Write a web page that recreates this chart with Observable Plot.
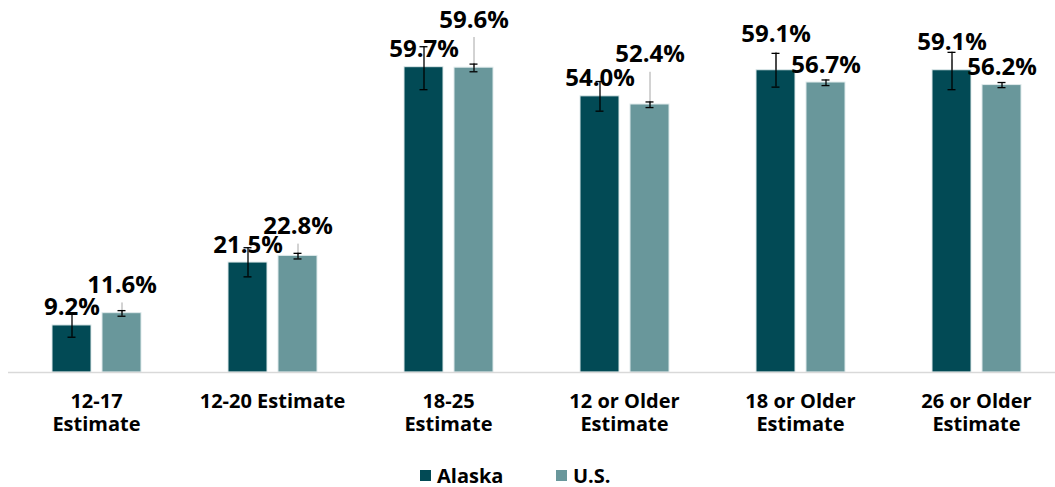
<!DOCTYPE html>
<html>
<head>
<meta charset="utf-8">
<script src="https://cdn.jsdelivr.net/npm/d3@7"></script>
<script src="https://cdn.jsdelivr.net/npm/@observablehq/plot@0.6"></script>
<style>
  html, body { margin: 0; padding: 0; background: #fff; overflow: hidden; }
  #wrap { position: relative; width: 1055px; height: 487px; font-family: "Open Sans", sans-serif; }
  .leg { position: absolute; top: 462px; display: flex; align-items: center; font-weight: 700; font-size: 20px; color: #000; }
  .sw { width: 11px; height: 11px; margin-right: 6px; }
</style>
</head>
<body>
<div id="wrap">
  <div id="chart"></div>
  <div class="leg" style="left:420px"><div class="sw" style="background:#024a55"></div>Alaska</div>
  <div class="leg" style="left:556px"><div class="sw" style="background:#69979b"></div>U.S.</div>
</div>
<script>
// ---- data ----
const categories = ["12-17 Estimate", "12-20 Estimate", "18-25 Estimate", "12 or Older Estimate", "18 or Older Estimate", "26 or Older Estimate"];
const tickLabels = ["12-17\nEstimate", "12-20 Estimate", "18-25\nEstimate", "12 or Older\nEstimate", "18 or Older\nEstimate", "26 or Older\nEstimate"];
const series = ["Alaska", "U.S."];
const alaska = [9.2, 21.5, 59.7, 54.0, 59.1, 59.1];
const alaskaLow = [6.9, 18.7, 55.3, 51.1, 55.8, 55.3];
const alaskaHigh = [11.6, 24.4, 63.7, 56.9, 62.4, 62.6];
const us = [11.6, 22.8, 59.6, 52.4, 56.7, 56.2];
const usLow = [11.0, 22.2, 58.8, 51.8, 56.1, 55.7];
const usHigh = [12.1, 23.3, 60.3, 52.9, 57.2, 56.7];

// ---- layout: how far (in % units) each data label was lifted above its bar ----
const alaskaLabelLift = [0, 0, 0, 0, 3.5, 2.0];
const usLabelLift = [2.0, 2.3, 5.9, 6.3, 0, 0];

const rows = [];
categories.forEach((c, i) => {
  rows.push({cat: c, series: "Alaska", value: alaska[i], low: alaskaLow[i], high: alaskaHigh[i], lift: alaskaLabelLift[i]});
  rows.push({cat: c, series: "U.S.", value: us[i], low: usLow[i], high: usHigh[i], lift: usLabelLift[i]});
});

const chart = Plot.plot({
  width: 1055,
  height: 445,
  marginLeft: 8,
  marginRight: -9,
  marginTop: 14,
  marginBottom: 73,
  style: {fontFamily: "'Open Sans', sans-serif", background: "#fff"},
  fx: {domain: categories, paddingInner: 0, paddingOuter: 0, label: null},
  x: {domain: series, paddingInner: 0.22, paddingOuter: 0.87, axis: null},
  y: {domain: [0, 70], axis: null},
  color: {domain: series, range: ["#024a55", "#69979b"]},
  marks: [
    Plot.barY(rows, {fx: "cat", x: "series", y: "value", fill: "series", stroke: "#dfeaeb", strokeWidth: 1}),
    Plot.ruleY([0], {stroke: "#d9d9d9", strokeWidth: 1.5}),
    Plot.ruleX(rows.filter(d => d.lift > 0), {fx: "cat", x: "series", y1: "value", y2: d => d.value + d.lift, stroke: "#a6a6a6", strokeWidth: 1}),
    Plot.ruleX(rows, {fx: "cat", x: "series", y1: "low", y2: "high", stroke: "#000", strokeWidth: 1.3}),
    Plot.tickY(rows, {fx: "cat", x: "series", y: "low", insetLeft: 15.5, insetRight: 15.5, stroke: "#000", strokeWidth: 1.3}),
    Plot.tickY(rows, {fx: "cat", x: "series", y: "high", insetLeft: 15.5, insetRight: 15.5, stroke: "#000", strokeWidth: 1.3}),
    Plot.text(rows, {fx: "cat", x: "series", y: d => d.value + d.lift, text: d => d.value.toFixed(1) + "%", dy: -10, lineAnchor: "bottom", fontSize: 24, fontWeight: 700, fill: "#000"}),
    Plot.axisFx({anchor: "bottom", tickSize: 0, tickPadding: 20, fontSize: 20, fontWeight: 700, lineHeight: 1.12, fill: "#000", label: null,
      tickFormat: c => tickLabels[categories.indexOf(c)]})
  ]
});
document.getElementById("chart").appendChild(chart);
</script>
</body>
</html>
